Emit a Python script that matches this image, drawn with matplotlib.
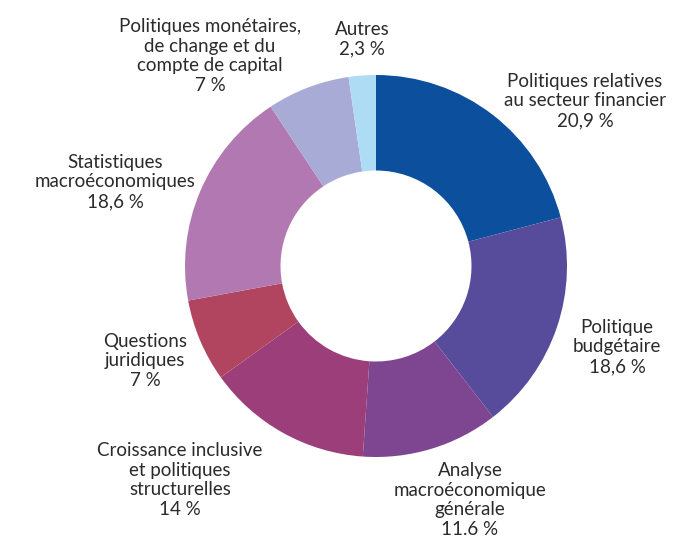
import matplotlib
matplotlib.use("Agg")
import matplotlib.pyplot as plt

# Répartition (en %)
categories = [
    "Politiques relatives\nau secteur financier",
    "Politique\nbudgétaire",
    "Analyse\nmacroéconomique\ngénérale",
    "Croissance inclusive\net politiques\nstructurelles",
    "Questions\njuridiques",
    "Statistiques\nmacroéconomiques",
    "Politiques monétaires,\nde change et du\ncompte de capital",
    "Autres",
]
valeurs = [20.9, 18.6, 11.6, 14, 7, 18.6, 7, 2.3]
etiquettes_valeurs = ["20,9 %", "18,6 %", "11.6 %", "14 %", "7 %", "18,6 %", "7 %", "2,3 %"]

couleurs = ["#0c4f9c", "#574b9b", "#7e4590", "#9b3e7a",
            "#b1455f", "#b278b2", "#a9abd7", "#aedcf4"]

# position des étiquettes (unités du rayon)
pos_etiquettes = [(1.094, 0.864), (1.262, -0.424), (0.492, -1.225), (-1.026, -1.120),
                  (-1.209, -0.497), (-1.366, 0.440), (-0.869, 1.099), (-0.073, 1.188)]

W, H = 676, 539
cx, cy, R = 376, 266, 191

fig = plt.figure(figsize=(W / 100, H / 100), dpi=100)
ax = fig.add_axes([0, 0, 1, 1])
ax.pie(valeurs, colors=couleurs, startangle=90, counterclock=False,
       radius=1, wedgeprops=dict(width=0.5, linewidth=0))
ax.set_xlim(-cx / R, (W - cx) / R)
ax.set_ylim((cy - H) / R, cy / R)
ax.set_aspect("equal")
ax.axis("off")

for cat, val, (x, y) in zip(categories, etiquettes_valeurs, pos_etiquettes):
    ax.text(x, y, cat + "\n" + val, ha="center", va="center", fontsize=13.5,
            family="Lato", color="#2b2b2b", linespacing=1.2)

fig.savefig("out.png", dpi=100)
